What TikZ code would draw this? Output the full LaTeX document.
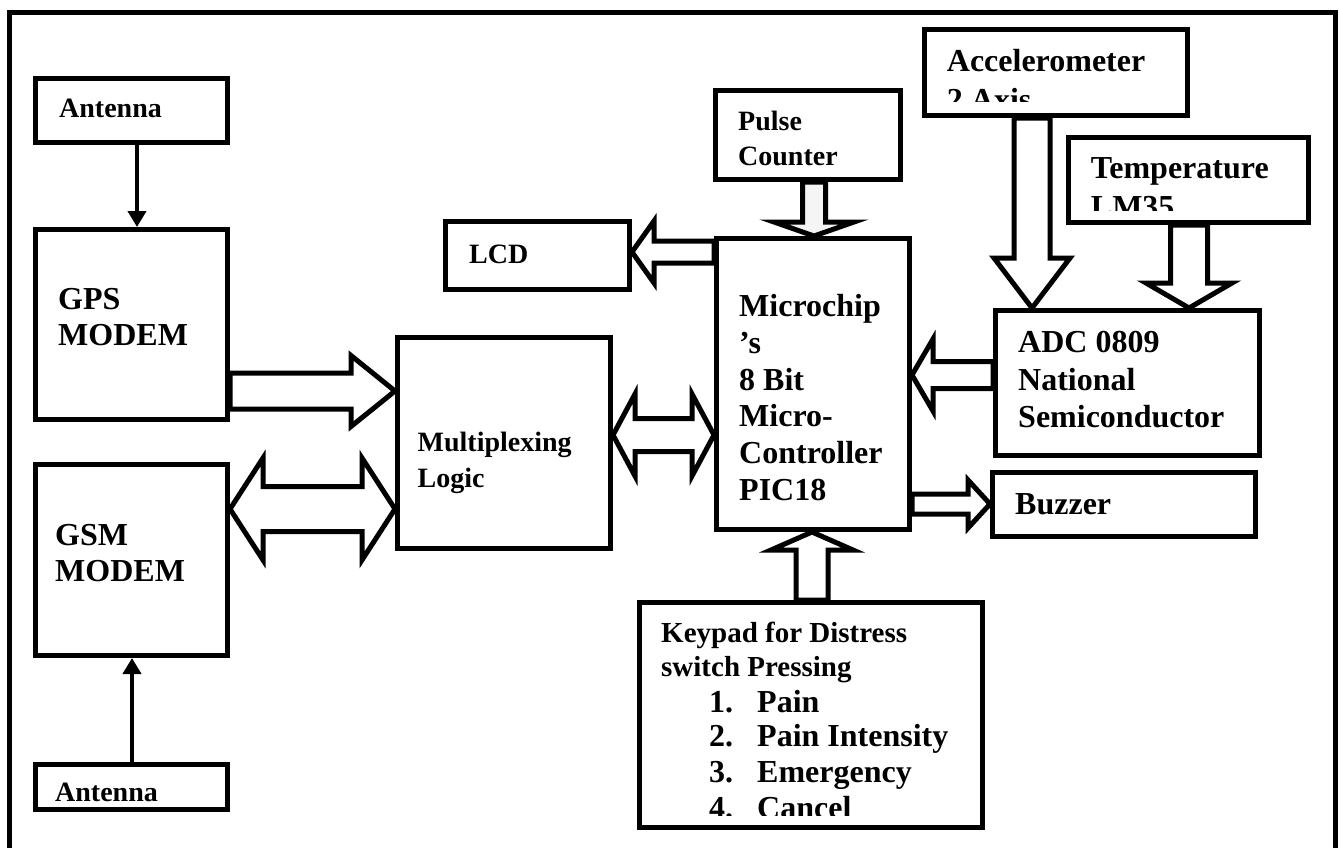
\documentclass[tikz,border=0pt]{standalone}
\usepackage{fontspec}
\setmainfont{Liberation Serif}
\usetikzlibrary{calc,arrows.meta}
\tikzset{
  box/.style={draw, line width=5pt, inner sep=0pt, fill=white},
  blk/.style={draw, line width=5pt, fill=white, line join=miter},
  thin arrow/.style={line width=4.5pt, -{Triangle[width=18pt,length=16pt]}},
  big/.style={inner sep=0pt, anchor=base west, font=\bfseries\fontsize{32}{36}\selectfont},
  mid/.style={inner sep=0pt, anchor=base west, font=\bfseries\fontsize{29}{33}\selectfont},
  small/.style={inner sep=0pt, anchor=base west, font=\bfseries\fontsize{28}{32}\selectfont},
}
% single block arrow: #2 start, #3 end, #4 shaft half width, #5 head half width, #6 head length
\newcommand\blockarrow[6][]{%
  \path ($(#3)!#6!(#2)$) coordinate (hb);
  \draw[blk,#1] ($(#2)!#4!90:(#3)$) -- ($(hb)!#4!90:(#3)$) -- ($(hb)!#5!90:(#3)$) -- (#3)
     -- ($(hb)!#5!-90:(#3)$) -- ($(hb)!#4!-90:(#3)$) -- ($(#2)!#4!-90:(#3)$) -- cycle;}
% double block arrow
\newcommand\dblarrow[5]{%
  \path ($(#1)!#5!(#2)$) coordinate (ha) ($(#2)!#5!(#1)$) coordinate (hb);
  \draw[blk] (#1) -- ($(ha)!#4!90:(#2)$) -- ($(ha)!#3!90:(#2)$) -- ($(hb)!#3!90:(#2)$)
     -- ($(hb)!#4!90:(#2)$) -- (#2) -- ($(hb)!#4!-90:(#2)$) -- ($(hb)!#3!-90:(#2)$)
     -- ($(ha)!#3!-90:(#2)$) -- ($(ha)!#4!-90:(#2)$) -- cycle;}
\begin{document}
\begin{tikzpicture}[x=1pt,y=-1pt]
\useasboundingbox (0,0) rectangle (1340,847);
% outer frame
\draw[line width=5pt] (9.5,850) -- (9.5,12.5) -- (1335,12.5) -- (1335,850);

% boxes
\node[box, minimum width=192pt, minimum height=64pt]  (ant1)   at (131.5,110.5) {};
\node[box, minimum width=192pt, minimum height=190pt] (gps)    at (131.5,324.5) {};
\node[box, minimum width=192pt, minimum height=191pt] (gsm)    at (131.5,560) {};
\node[box, minimum width=192pt, minimum height=45pt]  (ant2)   at (131.5,787) {};
\node[box, minimum width=213pt, minimum height=211pt] (mux)    at (504,443) {};
\node[box, minimum width=184pt, minimum height=68pt]  (lcd)    at (537.5,255.5) {};
\node[box, minimum width=185pt, minimum height=89pt]  (pulse)  at (808,135) {};
\node[box, minimum width=193pt, minimum height=291pt] (micro)  at (813,384) {};
\node[box, minimum width=263pt, minimum height=86pt]  (acc)    at (1056,72.5) {};
\node[box, minimum width=240pt, minimum height=85pt]  (temp)   at (1188.5,180) {};
\node[box, minimum width=264pt, minimum height=145pt] (adc)    at (1127.5,383) {};
\node[box, minimum width=263pt, minimum height=64pt]  (buzzer) at (1124,504.5) {};
\node[box, minimum width=343pt, minimum height=225pt] (keypad) at (811,715) {};

% thin arrows
\draw[thin arrow] (ant1.south -| 137,0) -- (gps.north -| 137,0);
\draw[thin arrow] (ant2.north -| 132,0) -- (gsm.south -| 132,0);

% block arrow end points
\coordinate (gpsO)  at (gps.east |- 0,391);
\coordinate (muxIa) at (mux.west |- 0,391);
\coordinate (gsmO)  at (gsm.east |- 0,509);
\coordinate (muxIb) at (mux.west |- 0,509);
\coordinate (muxO)  at (mux.east |- 0,435);
\coordinate (micIa) at (micro.west |- 0,435);
\coordinate (micOl) at (micro.west |- 0,252);
\coordinate (lcdI)  at (lcd.east |- 0,252);
\coordinate (pulO)  at (pulse.south -| 814,0);
\coordinate (micIt) at (micro.north -| 814,0);
\coordinate (accO)  at (acc.south -| 1032,0);
\coordinate (adcIa) at (adc.north -| 1032,0);
\coordinate (tmpO)  at (temp.south -| 1189,0);
\coordinate (adcIb) at (adc.north -| 1189,0);
\coordinate (adcO)  at (adc.west |- 0,375);
\coordinate (micIr) at (micro.east |- 0,375);
\coordinate (micOr) at (micro.east |- 0,504);
\coordinate (buzI)  at (buzzer.west |- 0,504);
\coordinate (keyO)  at (keypad.north -| 812,0);
\coordinate (micIb) at (micro.south -| 812,0);

% block arrows
\blockarrow{gpsO}{muxIa}{18pt}{35.5pt}{44pt}
\dblarrow{gsmO}{muxIb}{22.5pt}{51pt}{33pt}
\dblarrow{muxO}{micIa}{16.5pt}{41pt}{22pt}
\blockarrow{micOl}{lcdI}{11pt}{31pt}{22pt}
\blockarrow[fill=gray!8]{pulO}{micIt}{11.5pt}{40pt}{14pt}
\blockarrow{accO}{adcIa}{18pt}{38pt}{50pt}
\blockarrow{tmpO}{adcIb}{18.5pt}{43pt}{25pt}
\blockarrow{adcO}{micIr}{13.5pt}{36pt}{21pt}
\blockarrow{micOr}{buzI}{10pt}{24pt}{22pt}
\blockarrow{keyO}{micIb}{16pt}{41pt}{18pt}

% texts
\node[small] (tAnt1) at (59,117) {Antenna};
\node[small] (tAnt2) at (55,801.5) {Antenna};
\node[big] (tGps1) at (58,309) {GPS};
\node[big] (tGps2) at (58,345) {MODEM};
\node[big] (tGsm1) at (55,545) {GSM};
\node[big] (tGsm2) at (55,581.5) {MODEM};
\node[small] (tMux1) at (417.5,451) {Multiplexing};
\node[small] (tMux2) at (417.5,487) {Logic};
\node[small] (tLcd) at (469,263) {LCD};
\node[small] (tPul1) at (738,130) {Pulse};
\node[small] (tPul2) at (738,165) {Counter};
\node[big] (tMic1) at (739,316.5) {Microchip};
\node[big] (tMic2) at (739,353.3) {’s};
\node[big] (tMic3) at (739,390) {8 Bit};
\node[big] (tMic4) at (739,426.7) {Micro-};
\node[big] (tMic5) at (739,463.3) {Controller};
\node[big] (tMic6) at (739,500) {PIC18};
\begin{scope}
  \clip (925,30) rectangle (1187,101.7);
  \node[big] (tAcc1) at (946.7,71.7) {Accelerometer};
  \node[big] (tAcc2) at (946.7,110) {2 Axis};
\end{scope}
\begin{scope}
  \clip (1069,138) rectangle (1308,210.7);
  \node[big] (tTmp1) at (1090.7,178) {Temperature};
  \node[big] (tTmp2) at (1090.7,217) {LM35};
\end{scope}
\node[big] (tAdc1) at (1018,352.7) {ADC 0809};
\node[big] (tAdc2) at (1018,390) {National};
\node[big] (tAdc3) at (1018,427.7) {Semiconductor};
\node[big] (tBuz) at (1015,514) {Buzzer};
\node[mid] (tKey1) at (661,642.7) {Keypad for Distress};
\node[mid] (tKey2) at (661,676) {switch Pressing};
\node[big] (tN1) at (709,712.7) {1.};
\node[big] (tI1) at (757,712.7) {Pain};
\node[big] (tN2) at (709,746.7) {2.};
\node[big] (tI2) at (757,746.7) {Pain Intensity};
\node[big] (tN3) at (709,782.7) {3.};
\node[big] (tI3) at (757,782.7) {Emergency};
\begin{scope}
  \clip (640,790) rectangle (982,815.7);
  \node[big] (tN4) at (709,818.7) {4.};
  \node[big] (tI4) at (757,818.7) {Cancel};
\end{scope}
\end{tikzpicture}
\end{document}
